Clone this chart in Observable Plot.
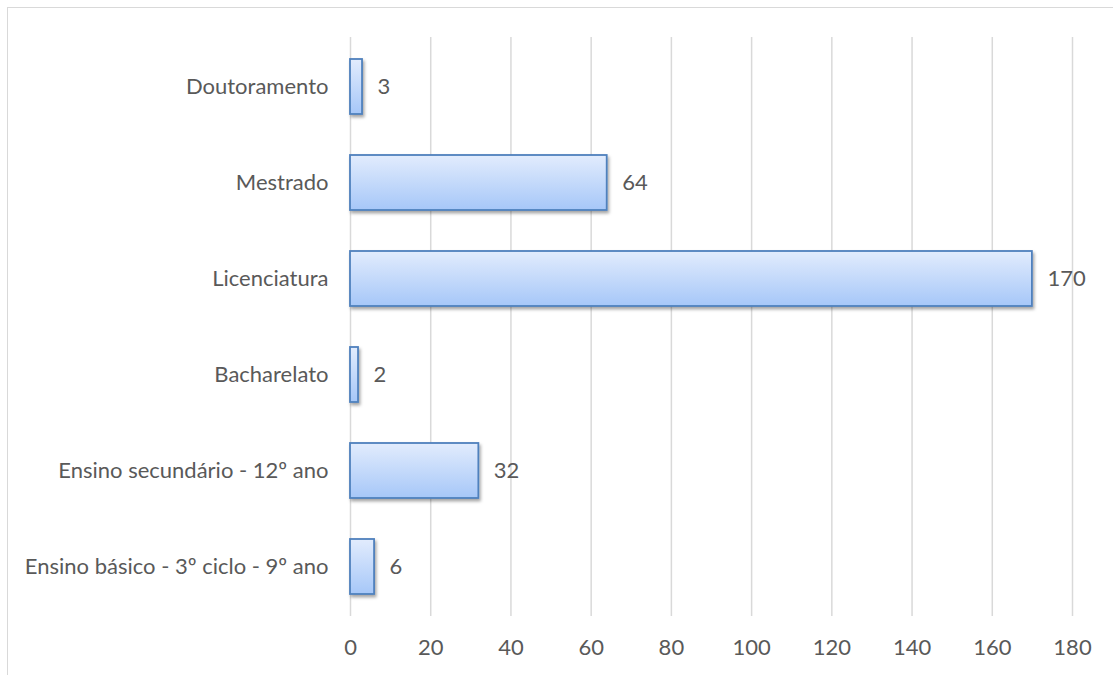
<!DOCTYPE html>
<html>
<head>
<meta charset="utf-8">
<script src="https://cdn.jsdelivr.net/npm/d3@7"></script>
<script src="https://cdn.jsdelivr.net/npm/@observablehq/plot@0.6"></script>
<style>
  html, body { margin: 0; padding: 0; background: #fff; }
  #wrap { position: relative; width: 1113px; height: 675px; overflow: hidden; }
  #frame { position: absolute; left: 7px; top: 7px; width: 1120px; height: 700px;
           border-top: 1.5px solid #d9d9d9; border-left: 1.5px solid #d9d9d9; pointer-events: none; }
  svg { display: block; }
</style>
</head>
<body>
<div id="wrap"><div id="frame"></div></div>
<script>
const categories = [
  "Doutoramento",
  "Mestrado",
  "Licenciatura",
  "Bacharelato",
  "Ensino secundário - 12º ano",
  "Ensino básico - 3º ciclo - 9º ano"
];
const values = [3, 64, 170, 2, 32, 6];
const xTicks = [0, 20, 40, 60, 80, 100, 120, 140, 160, 180];

const data = categories.map((c, i) => ({category: c, value: values[i]}));

const FONT = "Lato, 'Open Sans', sans-serif";
const GRAY = "#595959";
const FS = 22;

const defs = () => {
  const d = d3.create("svg:defs");
  const g = d.append("linearGradient").attr("id", "barGrad")
    .attr("x1", 0).attr("y1", 0).attr("x2", 0).attr("y2", 1);
  g.append("stop").attr("offset", "0%").attr("stop-color", "#e2ecfd");
  g.append("stop").attr("offset", "100%").attr("stop-color", "#a6c7f8");
  const f = d.append("filter").attr("id", "shadow")
    .attr("x", "-10%").attr("y", "-20%").attr("width", "130%").attr("height", "150%");
  f.append("feDropShadow").attr("dx", 1.5).attr("dy", 2.5).attr("stdDeviation", 1.5)
    .attr("flood-color", "#000").attr("flood-opacity", 0.35);
  return d.node();
};

const chart = Plot.plot({
  width: 1113,
  height: 675,
  marginLeft: 350,
  marginRight: 41,
  marginTop: 37,
  marginBottom: 59,
  style: {fontFamily: FONT, fontSize: FS + "px", color: GRAY, background: "transparent"},
  x: {domain: [0, 180], ticks: xTicks, label: null, tickSize: 0, tickPadding: 23},
  y: {domain: categories, paddingInner: 0.425, paddingOuter: 0.2125, label: null, tickSize: 0, tickPadding: 22},
  marks: [
    defs,
    Plot.gridX(xTicks, {stroke: "#d9d9d9", strokeOpacity: 1, strokeWidth: 1.5}),
    Plot.axisX({ticks: xTicks, tickSize: 0, tickPadding: 23, fill: GRAY, fontSize: FS, label: null}),
    Plot.axisY({tickSize: 0, tickPadding: 22, fill: GRAY, fontSize: FS, label: null}),
    Plot.barX(data, {
      x: "value", y: "category",
      fill: "url(#barGrad)", stroke: "#4f81bd", strokeWidth: 1.8,
      render: (index, scales, values, dims, ctx, next) => {
        const g = next(index, scales, values, dims, ctx);
        d3.select(g).attr("filter", "url(#shadow)");
        return g;
      }
    }),
    Plot.text(data, {
      x: "value", y: "category", text: d => String(d.value),
      dx: 15, textAnchor: "start", fill: GRAY, fontSize: FS
    })
  ]
});

document.getElementById("wrap").appendChild(chart);
</script>
</body>
</html>
